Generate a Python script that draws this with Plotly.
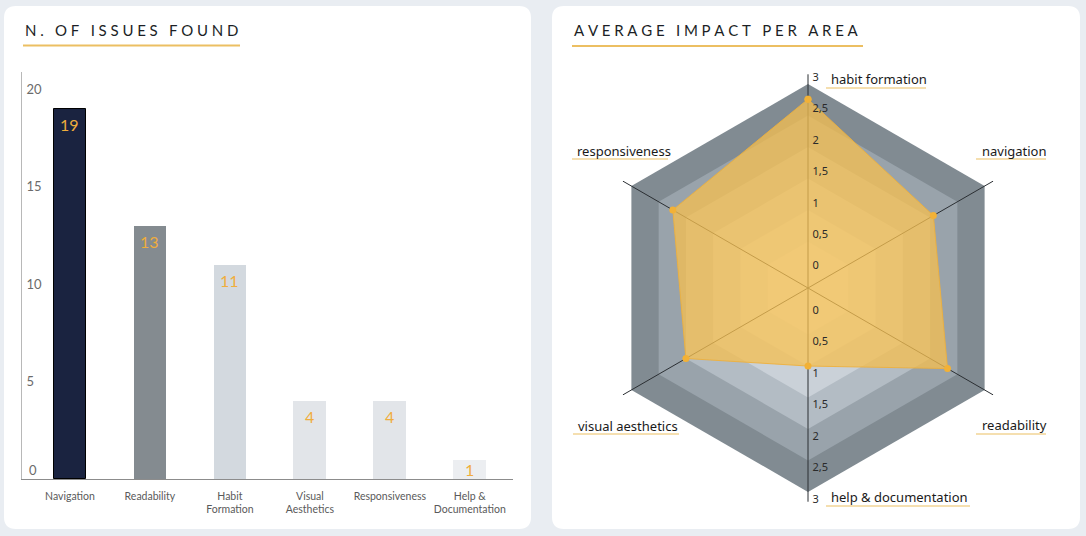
import plotly.graph_objects as go

W, H = 1086, 536

# ---------------- data ----------------
bar_categories = ["Navigation", "Readability", "Habit<br>Formation", "Visual<br>Aesthetics",
                  "Responsiveness", "Help &<br>Documentation"]
issue_counts = [19, 13, 11, 4, 4, 1]
bar_colors = ["#1a2340", "#848b90", "#d3d9df", "#e2e5e9", "#e2e5e9", "#eceef1"]
bar_outline_widths = [1, 0, 0, 0, 0, 0]
y_tick_values = [5, 10, 15, 20]

radar_areas = ["habit formation", "navigation", "readability", "help & documentation",
               "visual aesthetics", "responsiveness"]
impact_values = [2.76, 2.06, 2.32, 1.0, 2.0, 2.24]
radial_ticks = [0, 0.5, 1, 1.5, 2, 2.5, 3]
band_levels = [3, 2.5, 2, 1.5, 1, 0.5]
band_colors = ["#818b92", "#99a3ab", "#b3bcc4", "#cad1d8", "#d9dfe4", "#e4e8ec"]

left_title = "N. OF ISSUES FOUND"
right_title = "AVERAGE IMPACT PER AREA"

GOLD = "#ecbf62"
VALUE_COLOR = "#f0ad3c"


def px(x):
    return x / W


def py(y):
    return 1 - y / H


def spaced(text, gap="\u2005"):
    return gap.join(list(text))


def rounded_rect(x0, y0, x1, y1, r):
    pts = [
        f"M {px(x0 + r)},{py(y0)}",
        f"L {px(x1 - r)},{py(y0)}",
        f"Q {px(x1)},{py(y0)} {px(x1)},{py(y0 + r)}",
        f"L {px(x1)},{py(y1 - r)}",
        f"Q {px(x1)},{py(y1)} {px(x1 - r)},{py(y1)}",
        f"L {px(x0 + r)},{py(y1)}",
        f"Q {px(x0)},{py(y1)} {px(x0)},{py(y1 - r)}",
        f"L {px(x0)},{py(y0 + r)}",
        f"Q {px(x0)},{py(y0)} {px(x0 + r)},{py(y0)}",
        "Z",
    ]
    return " ".join(pts)


fig = go.Figure()

# ---------------- bar chart ----------------
fig.add_trace(go.Bar(
    x=bar_categories, y=issue_counts,
    marker=dict(color=bar_colors, line=dict(color="#000000", width=bar_outline_widths)),
    width=0.41,
    hoverinfo="skip", showlegend=False,
))

# ---------------- radar ----------------
r_min, r_max = -0.24, 3.16
CX, CY, RAD = 808, 288, 214

for lvl, col in zip(band_levels, band_colors):
    fig.add_trace(go.Scatterpolar(
        r=[lvl] * (len(radar_areas) + 1), theta=radar_areas + [radar_areas[0]],
        mode="lines", fill="toself", fillcolor=col, line=dict(width=0, color=col),
        hoverinfo="skip", showlegend=False, subplot="polar",
    ))

spoke_r, spoke_t = [], []
for a in radar_areas:
    spoke_r += [r_min, r_max, None]
    spoke_t += [a, a, None]
fig.add_trace(go.Scatterpolar(
    r=spoke_r, theta=spoke_t, mode="lines",
    line=dict(color="#2b2f33", width=1),
    hoverinfo="skip", showlegend=False, subplot="polar", connectgaps=False,
))

fig.add_trace(go.Scatterpolar(
    r=impact_values + [impact_values[0]], theta=radar_areas + [radar_areas[0]],
    mode="lines+markers", fill="toself", fillcolor="rgba(245,190,80,0.76)",
    line=dict(color="rgba(238,176,60,0.9)", width=1),
    marker=dict(size=7, color="#f2b136"),
    hoverinfo="skip", showlegend=False, subplot="polar",
))

for sp in ["polar2", "polar3"]:
    fig.add_trace(go.Scatterpolar(
        r=[0], theta=[radar_areas[0]], mode="markers", marker=dict(opacity=0),
        hoverinfo="skip", showlegend=False, subplot=sp,
    ))


def polar_domain(dx=0, dy=0):
    return dict(x=[px(CX + dx - RAD), px(CX + dx + RAD)],
                y=[py(CY + dy + RAD), py(CY + dy - RAD)])


tickfont_r = dict(family="Noto Sans", size=11, color="#2a2a2a")

common_angular = dict(type="category", categoryarray=radar_areas, rotation=90,
                      direction="clockwise", showline=False, showgrid=False,
                      showticklabels=False, ticks="")


def radial(angle, side, tickangle, show_labels=True):
    return dict(range=[r_min, r_max], angle=angle, side=side,
                tickvals=radial_ticks, showline=False, showgrid=False,
                showticklabels=show_labels,
                ticks="", tickfont=tickfont_r, layer="above traces", tickangle=tickangle)


fig.update_layout(
    polar=dict(domain=polar_domain(), bgcolor="rgba(0,0,0,0)", gridshape="linear",
               angularaxis=common_angular, radialaxis=radial(90, "clockwise", 90, False)),
    # radial labels, upper axis (labels sit just outward of their value)
    polar2=dict(domain=polar_domain(4, -7), bgcolor="rgba(0,0,0,0)", gridshape="linear",
                angularaxis=common_angular, radialaxis=radial(90, "clockwise", 90)),
    # radial labels, lower axis
    polar3=dict(domain=polar_domain(4, 7), bgcolor="rgba(0,0,0,0)", gridshape="linear",
                angularaxis=common_angular, radialaxis=radial(270, "counterclockwise", -90)),
)

# ---------------- layout ----------------
Y_MAX = 20.9
fig.update_layout(
    width=W, height=H, autosize=False,
    margin=dict(l=0, r=0, t=0, b=0, pad=0),
    paper_bgcolor="#e9edf2", plot_bgcolor="rgba(0,0,0,0)",
    separators=", ",
    hovermode=False,
    bargap=0,
    xaxis=dict(domain=[px(22), px(513)], range=[-0.6, 5.54], type="category",
               showline=True, linecolor="#8c8c8c", linewidth=1, ticks="",
               showgrid=False, zeroline=False, fixedrange=True,
               tickfont=dict(family="Lato", size=10.5, color="#5a5a5a"),
               ticklabelstandoff=7),
    yaxis=dict(domain=[py(479), py(72)], range=[0, Y_MAX],
               showline=True, linecolor="#b8b8b8", linewidth=1, ticks="",
               tickvals=y_tick_values, ticklabelposition="inside", ticklabelstandoff=4,
               showgrid=False, zeroline=False, fixedrange=True,
               tickfont=dict(family="Lato", size=13, color="#6b6b6b")),
)

shapes = [
    dict(type="path", path=rounded_rect(4, 6, 531, 529, 12), xref="paper", yref="paper",
         fillcolor="#ffffff", line=dict(width=0), layer="below"),
    dict(type="path", path=rounded_rect(552, 6, 1080, 529, 12), xref="paper", yref="paper",
         fillcolor="#ffffff", line=dict(width=0), layer="below"),
    dict(type="line", xref="paper", yref="paper", x0=px(23), x1=px(240), y0=py(45.5), y1=py(45.5),
         line=dict(color=GOLD, width=2)),
    dict(type="line", xref="paper", yref="paper", x0=px(572), x1=px(863), y0=py(46), y1=py(46),
         line=dict(color=GOLD, width=2)),
]

annotations = [
    dict(text=spaced(left_title), xref="paper", yref="paper", x=px(23), y=py(30),
         xanchor="left", yanchor="middle", showarrow=False,
         font=dict(family="Lato", size=15, color="#1c1f26")),
    dict(text=spaced(right_title), xref="paper", yref="paper", x=px(572), y=py(30),
         xanchor="left", yanchor="middle", showarrow=False,
         font=dict(family="Lato", size=15, color="#1c1f26")),
    dict(text="0", xref="paper", yref="y", x=px(27), y=0, xanchor="left", yanchor="bottom",
         yshift=-1, showarrow=False, font=dict(family="Lato", size=13, color="#6b6b6b")),
]

# value labels inside the bars (near the top; centred when the bar is short)
for cat, v in zip(bar_categories, issue_counts):
    if v >= 2:
        annotations.append(dict(text=str(v), x=cat, y=v, xref="x", yref="y",
                                yanchor="top", yshift=-4, showarrow=False,
                                font=dict(family="Lato", size=16, color=VALUE_COLOR)))
    else:
        annotations.append(dict(text=str(v), x=cat, y=v / 2, xref="x", yref="y",
                                yanchor="middle", showarrow=False,
                                font=dict(family="Lato", size=16, color=VALUE_COLOR)))

# angular labels (outside the radar) with golden underline
label_pos = {
    "habit formation": (829, 79, 826, 926, 88),
    "navigation": (980, 151, 976, 1046, 159),
    "readability": (980, 425, 976, 1046, 434),
    "help & documentation": (829, 497, 826, 970, 506),
    "visual aesthetics": (576, 426, 573, 679, 434),
    "responsiveness": (575, 151, 572, 668, 159),
}
for area in radar_areas:
    tx, ty, ux0, ux1, uy = label_pos[area]
    annotations.append(dict(text=area, xref="paper", yref="paper", x=px(tx), y=py(ty),
                            xanchor="left", yanchor="middle", showarrow=False,
                            font=dict(family="Noto Sans", size=13, color="#1a1a1a")))
    shapes.append(dict(type="line", xref="paper", yref="paper", x0=px(ux0), x1=px(ux1),
                       y0=py(uy), y1=py(uy), line=dict(color=GOLD, width=1.2)))

fig.update_layout(shapes=shapes, annotations=annotations)

fig.write_html("out.html")
